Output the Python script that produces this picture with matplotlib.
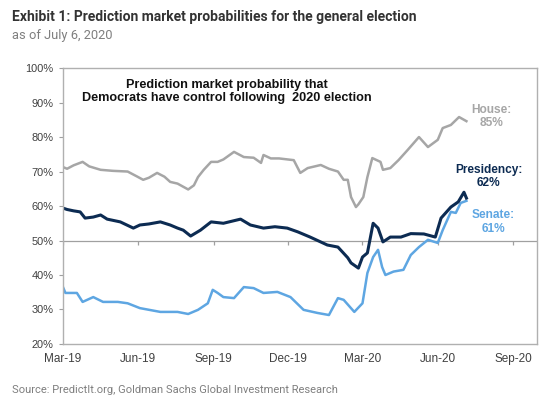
import pandas as pd
import matplotlib
matplotlib.use("Agg")
import matplotlib.pyplot as plt
import matplotlib.dates as mdates
from matplotlib.ticker import FuncFormatter

# DATA (% probability of Democratic control)
house_dates = ["2019-03-01", "2019-03-06", "2019-03-14", "2019-03-25", "2019-04-02",
               "2019-04-16", "2019-05-01", "2019-05-19", "2019-05-31", "2019-06-07",
               "2019-06-14", "2019-06-24", "2019-07-03", "2019-07-10", "2019-07-19",
               "2019-08-01", "2019-08-08", "2019-08-13", "2019-08-20", "2019-08-29",
               "2019-09-06", "2019-09-13", "2019-09-26", "2019-10-08", "2019-10-20",
               "2019-10-29", "2019-11-01", "2019-11-10", "2019-11-20", "2019-12-08",
               "2019-12-16", "2019-12-25", "2020-01-10", "2020-01-20", "2020-01-31",
               "2020-02-07", "2020-02-12", "2020-02-16", "2020-02-22", "2020-02-25",
               "2020-03-02", "2020-03-07", "2020-03-13", "2020-03-23", "2020-03-26",
               "2020-04-04", "2020-04-14", "2020-04-25", "2020-05-09", "2020-05-20",
               "2020-06-01", "2020-06-07", "2020-06-17", "2020-06-27", "2020-07-03",
               "2020-07-06"]
house = [71.3, 70.8, 71.8, 72.8, 71.5, 70.5, 70.2, 70.0, 68.5, 67.6,
         68.2, 69.6, 68.5, 67.0, 66.5, 64.8, 66.0, 68.4, 70.5, 72.8,
         72.8, 73.5, 75.7, 74.2, 74.0, 72.5, 74.8, 73.8, 73.8, 73.3,
         69.6, 71.0, 71.9, 70.8, 70.0, 67.6, 67.6, 62.6, 59.7, 60.5,
         62.6, 68.4, 73.9, 72.8, 70.5, 71.0, 73.3, 76.2, 80.0, 77.1,
         79.2, 82.6, 83.5, 85.8, 85.0, 84.6]

pres_dates = ["2019-03-01", "2019-03-06", "2019-03-14", "2019-03-22", "2019-03-28",
              "2019-04-07", "2019-04-16", "2019-04-24", "2019-05-10", "2019-05-26",
              "2019-06-03", "2019-06-14", "2019-06-28", "2019-07-10", "2019-07-19",
              "2019-07-26", "2019-08-04", "2019-08-16", "2019-08-29", "2019-09-13",
              "2019-10-04", "2019-10-16", "2019-11-01", "2019-11-15", "2019-11-30",
              "2019-12-13", "2019-12-28", "2020-01-18", "2020-01-31", "2020-02-12",
              "2020-02-16", "2020-02-25", "2020-03-01", "2020-03-07", "2020-03-14",
              "2020-03-20", "2020-03-26", "2020-04-04", "2020-04-17", "2020-04-29",
              "2020-05-15", "2020-05-29", "2020-06-05", "2020-06-17", "2020-06-26",
              "2020-07-03", "2020-07-06"]
presidency = [59.4, 59.0, 58.6, 58.3, 56.5, 56.8, 57.4, 56.2, 55.4, 53.6,
              54.5, 54.8, 55.4, 54.5, 53.6, 53.0, 51.3, 53.0, 55.4, 55.0,
              56.2, 54.5, 53.6, 54.0, 53.6, 52.5, 51.0, 48.7, 48.1, 45.0,
              43.5, 42.0, 45.2, 46.4, 55.0, 53.6, 49.6, 51.0, 51.0, 52.0,
              51.9, 51.0, 56.5, 59.7, 61.2, 64.0, 62.3]

senate_dates = ["2019-03-01", "2019-03-04", "2019-03-18", "2019-03-25", "2019-04-07",
                "2019-04-19", "2019-05-07", "2019-05-19", "2019-06-03", "2019-06-28",
                "2019-07-19", "2019-08-01", "2019-08-13", "2019-08-25", "2019-08-31",
                "2019-09-06", "2019-09-13", "2019-09-26", "2019-10-08", "2019-10-20",
                "2019-11-01", "2019-11-18", "2019-12-04", "2019-12-20", "2020-01-06",
                "2020-01-20", "2020-01-31", "2020-02-07", "2020-02-20", "2020-03-01",
                "2020-03-07", "2020-03-14", "2020-03-20", "2020-03-25", "2020-03-29",
                "2020-04-08", "2020-04-20", "2020-04-29", "2020-05-09", "2020-05-20",
                "2020-06-01", "2020-06-07", "2020-06-17", "2020-06-23", "2020-06-29",
                "2020-07-06"]
senate = [36.5, 34.8, 34.8, 32.2, 33.6, 32.2, 32.2, 31.8, 30.4, 29.3,
          29.3, 28.7, 29.9, 31.8, 35.7, 34.8, 33.6, 33.3, 36.5, 36.2,
          34.8, 35.1, 33.6, 29.9, 29.0, 28.4, 33.3, 32.8, 29.3, 31.8,
          40.6, 45.2, 47.3, 42.3, 40.0, 41.0, 41.5, 45.8, 48.1, 50.2,
          49.3, 53.0, 58.3, 58.0, 60.9, 61.5]

tick_dates = ["2019-03-01", "2019-06-01", "2019-09-01", "2019-12-01",
              "2020-03-01", "2020-06-01", "2020-09-01"]

NAVY = "#0c2b52"
LIGHT = "#5ea6e2"
GREY = "#a6a6a6"

plt.rcParams["font.family"] = ["Liberation Sans", "DejaVu Sans"]
HEAD = "Roboto"

fig = plt.figure(figsize=(5.5, 3.98), dpi=100)
ax = fig.add_axes([0.1145, 0.1357, 0.8615, 0.6933])

ax.plot(pd.to_datetime(house_dates), house, color=GREY, lw=1.8)
ax.plot(pd.to_datetime(senate_dates), senate, color=LIGHT, lw=1.8)
ax.plot(pd.to_datetime(pres_dates), presidency, color=NAVY, lw=2.2)

ticks = pd.to_datetime(tick_dates)
ax.set_xlim(pd.Timestamp("2019-03-01"), pd.Timestamp("2020-09-30"))
ax.set_ylim(20, 100)
ax.set_yticks(range(20, 101, 10))
ax.yaxis.set_major_formatter(FuncFormatter(lambda v, p: f"{v:.0f}%"))
ax.set_xticks(ticks)
ax.xaxis.set_major_formatter(mdates.DateFormatter("%b-%y"))

# horizontal axis line crosses at 50% with its tick marks
ax.axhline(50, color="#a0a0a0", lw=0.9, zorder=1)
ax.vlines(ticks, 48.8, 50, color="#a0a0a0", lw=0.9, zorder=1)

for s in ax.spines.values():
    s.set_color("#b0b0b0")
    s.set_linewidth(1.0)
ax.tick_params(axis="y", length=3, color="#a0a0a0", labelsize=7.9,
               labelcolor="#404040", pad=4)
ax.tick_params(axis="x", length=0, labelsize=8.5, labelcolor="#404040", pad=6.5)

ax.text(0.346, 0.915, "Prediction market probability that\nDemocrats have control following  2020 election",
        transform=ax.transAxes, ha="center", va="center", fontsize=9.1,
        fontweight="bold", color="#111111", linespacing=1.2)
ax.text(pd.Timestamp("2020-08-06"), 86.0, "House:\n85%", ha="center", va="center",
        fontsize=8.6, fontweight="bold", color=GREY, linespacing=1.15)
ax.text(pd.Timestamp("2020-08-02"), 68.5, "Presidency:\n62%", ha="center", va="center",
        fontsize=8.6, fontweight="bold", color=NAVY, linespacing=1.15)
ax.text(pd.Timestamp("2020-08-08"), 55.4, "Senate:\n61%", ha="center", va="center",
        fontsize=8.6, fontweight="bold", color=LIGHT, linespacing=1.15)

fig.text(0.022, 0.958, "Exhibit 1: Prediction market probabilities for the general election",
         fontsize=10, fontweight="bold", color="#333333", va="center", family=HEAD)
fig.text(0.022, 0.912, "as of July 6, 2020", fontsize=9.3, color="#7f7f7f", va="center",
         family=HEAD)
fig.text(0.022, 0.02, "Source: PredictIt.org, Goldman Sachs Global Investment Research",
         fontsize=8, color="#7f7f7f", va="center", family=HEAD)

fig.savefig("out.png", dpi=100)
